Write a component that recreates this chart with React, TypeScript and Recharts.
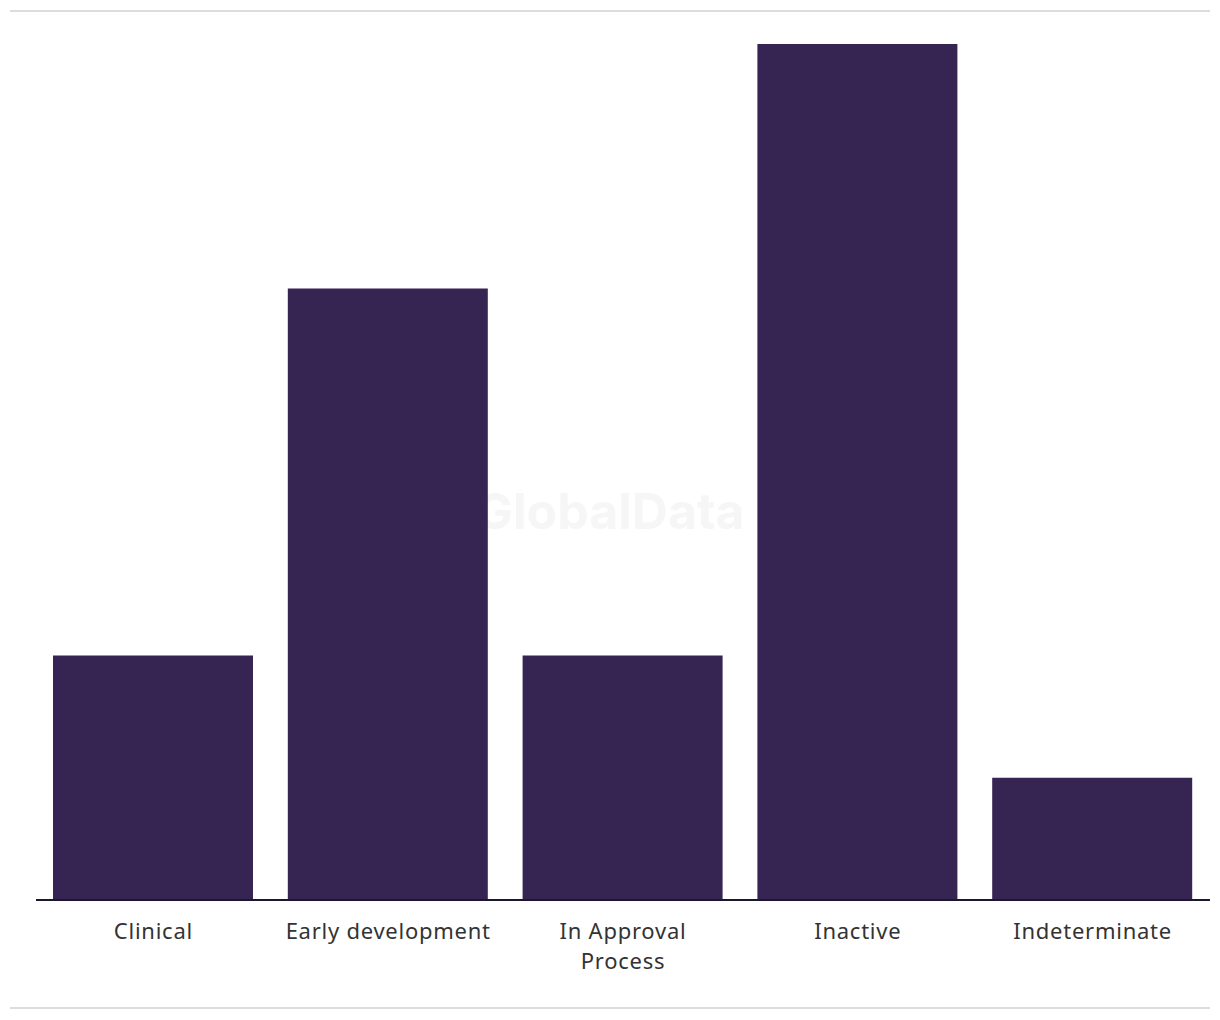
import { BarChart, Bar, XAxis, YAxis } from "recharts";

// categories and counts
const categories = ["Clinical", "Early development", "In Approval Process", "Inactive", "Indeterminate"];
const counts = [2, 5, 2, 7, 1];
// how each tick label breaks over lines
const tickLines: string[][] = [["Clinical"], ["Early development"], ["In Approval", "Process"], ["Inactive"], ["Indeterminate"]];

const data = categories.map((name, i) => ({ name, count: counts[i] }));

function Tick({ x, y, index }: any) {
  const lines = tickLines[index] || [];
  return (
    <text x={x} y={y} textAnchor="middle" fill="#333" fontSize={22} fontFamily="'Noto Sans', sans-serif" letterSpacing={0.75}>
      {lines.map((l, i) => (
        <tspan key={i} x={x} dy={i === 0 ? 31 : 30}>{l}</tspan>
      ))}
    </text>
  );
}

export default function App() {
  return (
    <div style={{ position: "absolute", left: 0, top: 0, width: 1220, height: 1020, background: "#fff" }}>
      <div style={{ position: "absolute", left: 10, top: 10, width: 1200, height: 2, background: "#dcdcdc" }} />
      <div style={{ position: "absolute", left: 10, top: 1007, width: 1200, height: 2, background: "#dcdcdc" }} />
      <BarChart width={1220} height={1020} data={data} margin={{ top: 44, right: 10, left: 36, bottom: 0 }} barSize={200}>
        <XAxis
          dataKey="name"
          height={120}
          axisLine={{ stroke: "#1b1730", strokeWidth: 2 }}
          tickLine={false}
          interval={0}
          tick={<Tick />}
        />
        <YAxis hide domain={[0, 7]} />
        <Bar dataKey="count" fill="#362552" isAnimationActive={false} />
        <text x={610} y={529} textAnchor="middle" fontSize={50} fontWeight={700} fontFamily="Inter, sans-serif" fill="#e6e6e6" opacity={0.35}>
          GlobalData
        </text>
      </BarChart>
    </div>
  );
}
